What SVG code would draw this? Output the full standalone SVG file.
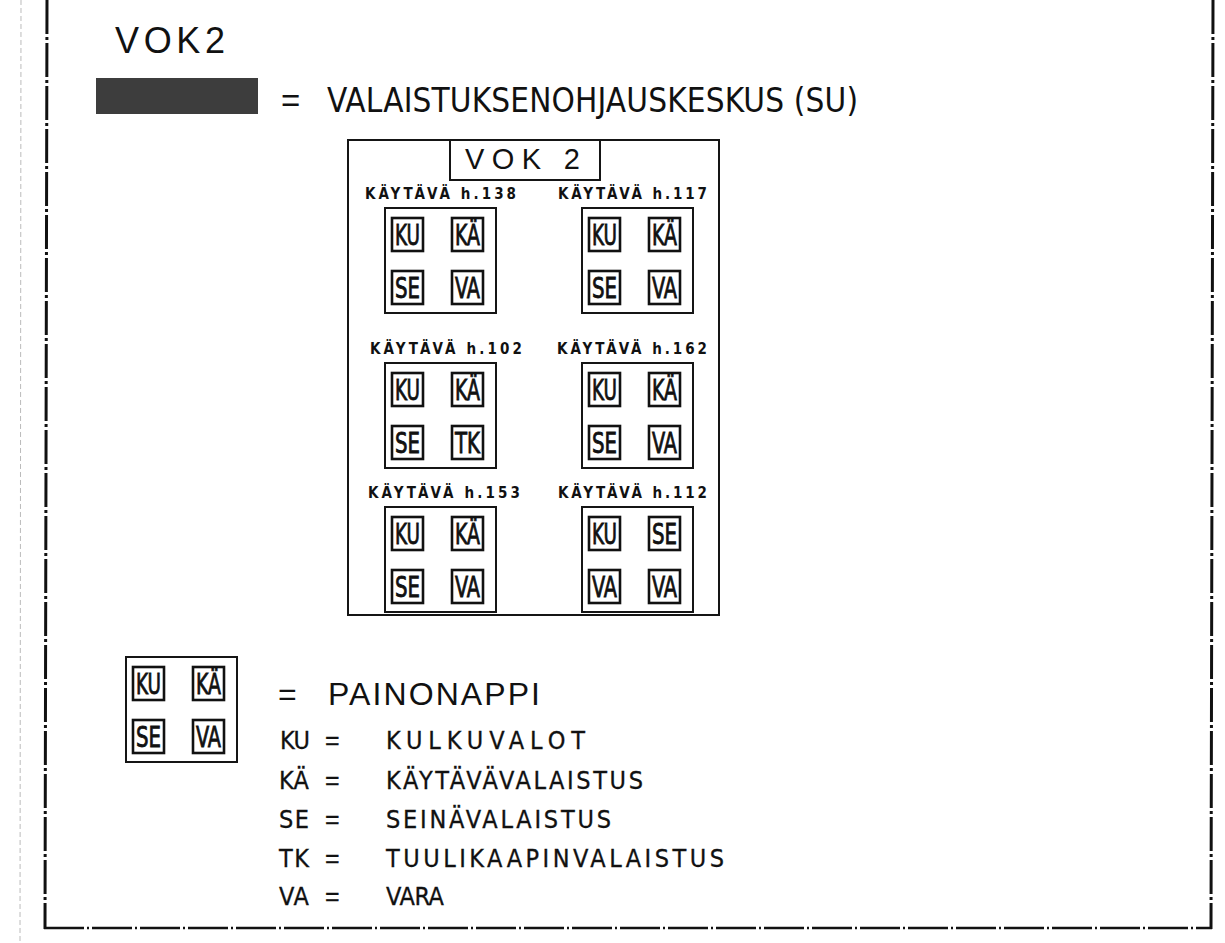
<svg xmlns="http://www.w3.org/2000/svg" width="1225" height="943" viewBox="0 0 1225 943">
<style>
text{font-family:"Liberation Sans",Arial,sans-serif;fill:#111}
.nar{font-family:"Liberation Sans Narrow","DejaVu Sans Condensed","Liberation Sans",sans-serif}
.frame{fill:none;stroke:#111;stroke-width:3}
.box{fill:none;stroke:#151515;stroke-width:2}
.btn{fill:none;stroke:#111;stroke-width:2.6}
.bt{font-size:28px;text-anchor:middle;stroke:#111;stroke-width:0.8}
.lbl{font-size:15px;font-weight:bold}
.leg{font-size:25px;stroke:#111;stroke-width:0.3}
</style>
<rect width="1225" height="943" fill="#fff"/>
<g id="frame">
<line x1="21" y1="0" x2="20" y2="943" stroke="#bbb" stroke-width="1" stroke-dasharray="5 3"/>
<line class="frame" x1="47" y1="0" x2="45" y2="929" stroke-dasharray="34 3 3 3"/>
<line class="frame" x1="1213" y1="0" x2="1211" y2="929" stroke-dasharray="34 3 3 3"/>
<line x1="44" y1="928" x2="1212" y2="928" stroke="#111" stroke-width="2.5" stroke-dasharray="40 3 2 3"/>
</g>
<g id="title">
<text x="115" y="53" font-size="36" textLength="110" lengthAdjust="spacing">VOK2</text>
<rect x="96" y="78" width="162" height="36" fill="#3d3d3d"/>
<text x="281" y="112" font-size="33">=</text>
<text class="nar" x="327" y="112" font-size="33" textLength="531" lengthAdjust="spacing">VALAISTUKSENOHJAUSKESKUS (SU)</text>
</g>
<g id="main-box">
<rect class="box" x="348" y="140" width="371" height="475"/>
<rect class="box" x="450" y="140" width="150" height="40"/>
<text x="465" y="169" font-size="29" textLength="115" lengthAdjust="spacing">VOK 2</text>
</g>
<defs>
<g id="b4">
<rect class="box" x="0" y="0" width="111" height="105"/>
<rect class="btn" x="7" y="10" width="31" height="33"/>
<rect class="btn" x="67" y="10" width="31" height="33"/>
<rect class="btn" x="7" y="63" width="31" height="33"/>
<rect class="btn" x="67" y="63" width="31" height="33"/>
</g>
</defs>
<g id="h138">
<text class="lbl nar" x="365" y="199" textLength="151" lengthAdjust="spacing">KÄYTÄVÄ h.138</text>
<use href="#b4" x="385" y="208"/>
<text class="bt nar" x="407.5" y="245" textLength="25" lengthAdjust="spacingAndGlyphs">KU</text>
<text class="bt nar" x="467.5" y="245" textLength="25" lengthAdjust="spacingAndGlyphs">KÄ</text>
<text class="bt nar" x="407.5" y="298" textLength="25" lengthAdjust="spacingAndGlyphs">SE</text>
<text class="bt nar" x="467.5" y="298" textLength="25" lengthAdjust="spacingAndGlyphs">VA</text>
</g>
<g id="h117">
<text class="lbl nar" x="558" y="199" textLength="149" lengthAdjust="spacing">KÄYTÄVÄ h.117</text>
<use href="#b4" x="582" y="208"/>
<text class="bt nar" x="604.5" y="245" textLength="25" lengthAdjust="spacingAndGlyphs">KU</text>
<text class="bt nar" x="664.5" y="245" textLength="25" lengthAdjust="spacingAndGlyphs">KÄ</text>
<text class="bt nar" x="604.5" y="298" textLength="25" lengthAdjust="spacingAndGlyphs">SE</text>
<text class="bt nar" x="664.5" y="298" textLength="25" lengthAdjust="spacingAndGlyphs">VA</text>
</g>
<g id="h102">
<text class="lbl nar" x="370" y="354" textLength="152" lengthAdjust="spacing">KÄYTÄVÄ h.102</text>
<use href="#b4" x="385" y="363"/>
<text class="bt nar" x="407.5" y="400" textLength="25" lengthAdjust="spacingAndGlyphs">KU</text>
<text class="bt nar" x="467.5" y="400" textLength="25" lengthAdjust="spacingAndGlyphs">KÄ</text>
<text class="bt nar" x="407.5" y="453" textLength="25" lengthAdjust="spacingAndGlyphs">SE</text>
<text class="bt nar" x="467.5" y="453" textLength="25" lengthAdjust="spacingAndGlyphs">TK</text>
</g>
<g id="h162">
<text class="lbl nar" x="557" y="354" textLength="150" lengthAdjust="spacing">KÄYTÄVÄ h.162</text>
<use href="#b4" x="582" y="363"/>
<text class="bt nar" x="604.5" y="400" textLength="25" lengthAdjust="spacingAndGlyphs">KU</text>
<text class="bt nar" x="664.5" y="400" textLength="25" lengthAdjust="spacingAndGlyphs">KÄ</text>
<text class="bt nar" x="604.5" y="453" textLength="25" lengthAdjust="spacingAndGlyphs">SE</text>
<text class="bt nar" x="664.5" y="453" textLength="25" lengthAdjust="spacingAndGlyphs">VA</text>
</g>
<g id="h153">
<text class="lbl nar" x="368" y="498" textLength="152" lengthAdjust="spacing">KÄYTÄVÄ h.153</text>
<use href="#b4" x="385" y="507"/>
<text class="bt nar" x="407.5" y="544" textLength="25" lengthAdjust="spacingAndGlyphs">KU</text>
<text class="bt nar" x="467.5" y="544" textLength="25" lengthAdjust="spacingAndGlyphs">KÄ</text>
<text class="bt nar" x="407.5" y="597" textLength="25" lengthAdjust="spacingAndGlyphs">SE</text>
<text class="bt nar" x="467.5" y="597" textLength="25" lengthAdjust="spacingAndGlyphs">VA</text>
</g>
<g id="h112">
<text class="lbl nar" x="558" y="498" textLength="149" lengthAdjust="spacing">KÄYTÄVÄ h.112</text>
<use href="#b4" x="582" y="507"/>
<text class="bt nar" x="604.5" y="544" textLength="25" lengthAdjust="spacingAndGlyphs">KU</text>
<text class="bt nar" x="664.5" y="544" textLength="25" lengthAdjust="spacingAndGlyphs">SE</text>
<text class="bt nar" x="604.5" y="597" textLength="25" lengthAdjust="spacingAndGlyphs">VA</text>
<text class="bt nar" x="664.5" y="597" textLength="25" lengthAdjust="spacingAndGlyphs">VA</text>
</g>
<g id="legend-button">
<use href="#b4" x="126" y="657"/>
<text class="bt nar" x="148.5" y="694" textLength="25" lengthAdjust="spacingAndGlyphs">KU</text>
<text class="bt nar" x="208.5" y="694" textLength="25" lengthAdjust="spacingAndGlyphs">KÄ</text>
<text class="bt nar" x="148.5" y="747" textLength="25" lengthAdjust="spacingAndGlyphs">SE</text>
<text class="bt nar" x="208.5" y="747" textLength="25" lengthAdjust="spacingAndGlyphs">VA</text>
</g>
<g id="legend-text">
<text x="278" y="705" font-size="32">=</text>
<text x="328" y="705" font-size="32" textLength="212" lengthAdjust="spacing">PAINONAPPI</text>
<text class="leg nar" x="280" y="749" textLength="30" lengthAdjust="spacing">KU</text>
<text class="leg" x="325" y="749">=</text>
<text class="leg nar" x="386" y="749" textLength="199" lengthAdjust="spacing">KULKUVALOT</text>
<text class="leg nar" x="279" y="789" textLength="30" lengthAdjust="spacing">KÄ</text>
<text class="leg" x="325" y="789">=</text>
<text class="leg nar" x="386" y="789" textLength="257" lengthAdjust="spacing">KÄYTÄVÄVALAISTUS</text>
<text class="leg nar" x="279" y="828" textLength="30" lengthAdjust="spacing">SE</text>
<text class="leg" x="325" y="828">=</text>
<text class="leg nar" x="386" y="828" textLength="225" lengthAdjust="spacing">SEINÄVALAISTUS</text>
<text class="leg nar" x="279" y="867" textLength="30" lengthAdjust="spacing">TK</text>
<text class="leg" x="325" y="867">=</text>
<text class="leg nar" x="386" y="867" textLength="338" lengthAdjust="spacing">TUULIKAAPINVALAISTUS</text>
<text class="leg nar" x="279" y="905" textLength="30" lengthAdjust="spacing">VA</text>
<text class="leg" x="325" y="905">=</text>
<text class="leg nar" x="386" y="905" textLength="58" lengthAdjust="spacing">VARA</text>
</g>
</svg>
